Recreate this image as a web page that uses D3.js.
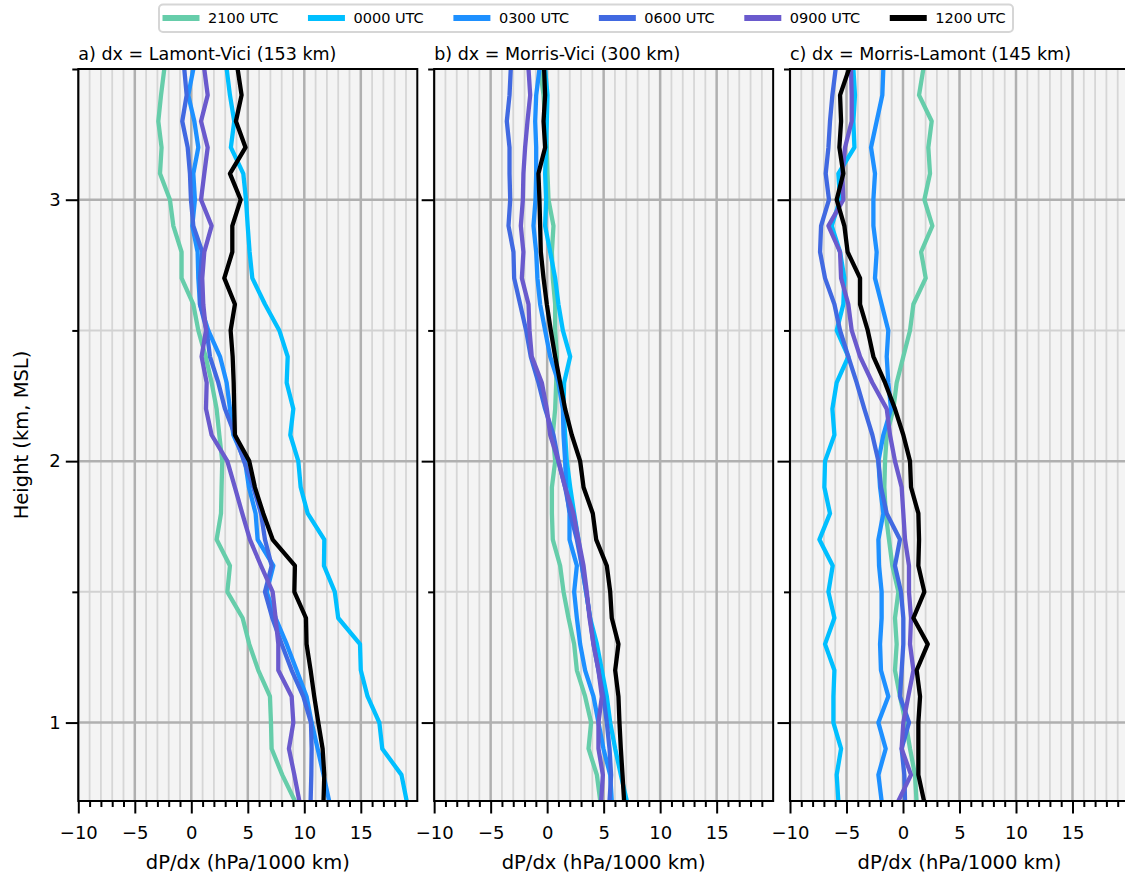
<!DOCTYPE html>
<html>
<head>
<meta charset="utf-8">
<script src="https://cdn.jsdelivr.net/npm/d3@7"></script>
<style>
body { margin: 0; background: #fff; }
svg text { font-family: "DejaVu Sans", sans-serif; fill: #000; }
</style>
</head>
<body>
<div id="chart"></div>
<script>
// heights (km, MSL), listed top to bottom
var heights = [3.5, 3.4, 3.3, 3.2, 3.1, 3.0, 2.9, 2.8, 2.7, 2.6, 2.5, 2.4, 2.3, 2.2, 2.1,
               2.0, 1.9, 1.8, 1.7, 1.6, 1.5, 1.4, 1.3, 1.2, 1.1, 1.0, 0.9, 0.8, 0.7];

// a) Lamont-Vici
var a2100 = [-2.39, -2.68, -2.92, -2.63, -2.77, -1.89, -1.59, -0.86, -0.86, 0.18, 0.62, 1.27, 1.8, 2.24, 2.48, 2.74, 2.68, 2.63, 2.24, 3.42, 3.19, 4.54, 5.13, 5.93, 6.96, 7.05, 7.11, 8.05, 9.17];
var a0000 = [3.13, 3.42, 3.8, 3.5, 4.6, 4.84, 4.99, 5.16, 5.4, 6.52, 7.79, 8.53, 8.44, 9.03, 8.76, 9.47, 9.68, 10.3, 11.77, 11.74, 12.7, 13.0, 14.93, 15.0, 15.6, 16.64, 16.9, 18.6, 19.06];
var a0300 = [0.18, -0.27, 0.27, 0.62, 0.18, 0.32, 0.09, 0.56, 0.62, 0.77, 1.5, 2.54, 3.13, 3.42, 3.72, 4.75, 5.1, 5.69, 5.87, 7.26, 6.67, 7.46, 8.44, 9.32, 10.2, 10.65, 11.18, 11.7, 12.2];
var a0600 = [-0.62, -0.41, -0.8, -0.32, -0.12, -0.03, 0.18, 0.97, 0.77, 0.77, 1.36, 1.65, 2.39, 2.98, 3.86, 4.66, 5.49, 6.17, 6.52, 7.11, 6.52, 7.17, 8.0, 8.88, 9.91, 10.59, 10.65, 10.62, 10.56];
var a0900 = [1.15, 1.45, 0.86, 1.45, 1.15, 0.86, 1.8, 1.15, 0.97, 1.06, 1.3, 0.91, 1.36, 1.3, 1.8, 3.19, 3.86, 4.51, 5.19, 6.17, 7.2, 7.46, 7.7, 7.7, 8.88, 9.03, 8.64, 9.12, 9.56];
var a1200 = [4.1, 4.45, 3.95, 4.8, 3.42, 4.37, 3.63, 3.63, 2.92, 3.86, 3.48, 3.66, 3.75, 3.8, 3.86, 5.13, 5.63, 6.37, 7.2, 9.17, 9.12, 10.15, 10.2, 10.56, 10.88, 11.24, 11.62, 11.77, 11.7];

// b) Morris-Vici
var b2100 = [-0.62, -0.32, -0.18, -0.03, 0.03, 0.12, 0.56, 0.42, 0.5, 0.71, 0.71, 0.86, 0.8, 0.71, 0.5, 0.71, 0.42, 0.42, 0.5, 1.15, 1.45, 1.89, 2.39, 2.63, 3.36, 3.89, 3.66, 4.4, 4.7];
var b0000 = [-0.18, 0.03, -0.03, -0.09, -0.18, -0.09, -0.18, 0.27, 0.71, 1.0, 1.39, 2.04, 1.5, 1.45, 1.59, 1.74, 2.04, 2.39, 2.77, 3.07, 3.45, 3.8, 4.4, 4.84, 5.28, 5.58, 6.02, 6.52, 7.05];
var b0300 = [-0.68, -0.97, -1.06, -0.97, -0.97, -1.03, -1.21, -0.97, -0.86, -0.62, -0.18, 0.27, 1.0, 1.39, 1.45, 1.59, 1.68, 1.98, 1.98, 2.63, 2.39, 2.63, 2.92, 3.36, 4.1, 4.54, 4.98, 5.58, 5.72];
var b0600 = [-3.22, -3.33, -3.57, -3.33, -3.33, -3.27, -3.42, -2.98, -2.92, -2.39, -1.86, -1.45, -0.77, -0.18, 0.56, 1.0, 1.59, 2.04, 2.63, 3.07, 3.45, 3.8, 4.1, 4.54, 4.98, 5.28, 5.52, 5.66, 5.52];
var b0900 = [-1.65, -1.5, -1.74, -1.95, -2.1, -2.15, -2.33, -2.1, -2.24, -1.65, -1.56, -1.36, -0.47, -0.03, 0.27, 1.0, 1.59, 2.33, 2.77, 3.22, 3.51, 3.75, 4.1, 4.54, 4.84, 4.54, 4.54, 4.93, 4.78];
var b1200 = [-0.27, -0.18, -0.32, -0.18, -0.77, -0.68, -0.62, -0.56, -0.32, -0.03, 0.32, 0.71, 1.15, 1.59, 2.18, 2.92, 3.22, 4.04, 4.34, 5.28, 5.58, 5.72, 6.31, 6.02, 6.31, 6.4, 6.52, 6.67, 6.81];

// c) Morris-Lamont
var c2100 = [1.8, 1.42, 2.54, 2.24, 2.39, 1.89, 2.6, 1.6, 2.01, 0.92, 0.62, 0.03, -0.56, -0.85, -1.44, -1.59, -1.65, -1.53, -1.24, -0.94, -0.41, -0.71, -0.56, -0.71, -0.27, 0.24, 0.62, 1.06, 1.2];
var c0000 = [-4.39, -4.25, -4.39, -4.3, -5.72, -5.57, -6.31, -5.57, -5.19, -5.28, -5.87, -4.84, -5.87, -6.25, -6.07, -6.9, -6.96, -6.46, -7.4, -6.22, -6.6, -6.07, -6.9, -6.07, -6.16, -6.16, -5.48, -5.87, -5.72];
var c0300 = [-1.74, -1.83, -2.33, -2.83, -2.48, -2.62, -2.62, -2.33, -2.48, -1.89, -1.3, -1.44, -1.3, -1.06, -1.74, -2.18, -2.03, -1.74, -2.18, -2.12, -1.89, -1.89, -2.03, -1.95, -1.3, -2.18, -1.53, -2.18, -1.89];
var c0600 = [-5.96, -6.25, -6.46, -6.6, -6.84, -6.55, -7.25, -7.34, -6.9, -6.07, -5.57, -4.84, -4.1, -3.42, -2.71, -2.18, -1.95, -1.44, -0.27, -0.71, -0.18, 0.03, 0.03, -0.12, -0.27, 0.53, -0.12, 0.12, 0.18];
var c0900 = [-4.6, -4.54, -4.54, -5.13, -5.37, -5.28, -6.6, -5.57, -5.48, -4.84, -4.54, -3.8, -2.71, -1.44, -1.15, -0.71, -0.12, 0.03, 0.18, 0.53, 0.53, 0.71, 0.62, 0.92, 0.47, 0.03, -0.12, 0.71, -0.41];
var c1200 = [-4.78, -5.57, -5.48, -5.63, -5.28, -5.87, -5.19, -4.9, -3.8, -3.8, -3.12, -2.62, -1.59, -0.71, 0.03, 0.62, 0.71, 1.36, 1.42, 1.36, 1.89, 0.92, 2.19, 1.21, 1.51, 1.36, 1.36, 1.36, 1.86];

var times = ["2100 UTC", "0000 UTC", "0300 UTC", "0600 UTC", "0900 UTC", "1200 UTC"];
var colors = ["#66cdaa", "#00bfff", "#1e90ff", "#4169e1", "#6a5acd", "#000000"];
var titles = ["a) dx = Lamont-Vici (153 km)", "b) dx = Morris-Vici (300 km)", "c) dx = Morris-Lamont (145 km)"];
var xMajor = [-10, -5, 0, 5, 10, 15];
var yMajor = [1, 2, 3];
var yMinor = [1.5, 2.5, 3.5];

var panels = [
    [a2100, a0000, a0300, a0600, a0900, a1200],
    [b2100, b0000, b0300, b0600, b0900, b1200],
    [c2100, c0000, c0300, c0600, c0900, c1200]
];

var width = 1125, height = 878;
var margins = {top: 69, bottom: 801, left: 78.3};
var pw = 339, gap = 16.85;
var xMinor = d3.range(-10, 20).filter(function(v) { return v % 5 !== 0; });

var svg = d3.select("#chart").append("svg")
    .attr("width", width).attr("height", height)
    .attr("viewBox", [0, 0, width, height]);

var y = d3.scaleLinear().domain([0.7, 3.5]).range([margins.bottom, margins.top]);

panels.forEach(function(series, p) {
    var x0 = margins.left + p * (pw + gap);
    var x = d3.scaleLinear().domain([-10, 20]).range([x0, x0 + pw]);
    var g = svg.append("g").attr("class", "panel");

    g.append("clipPath").attr("id", "clip" + p)
        .append("rect")
        .attr("x", x0).attr("y", margins.top)
        .attr("width", pw).attr("height", margins.bottom - margins.top);

    g.append("rect")
        .attr("x", x0).attr("y", margins.top)
        .attr("width", pw).attr("height", margins.bottom - margins.top)
        .attr("fill", "#f4f4f4");

    // grid
    g.append("g").selectAll("line").data(xMinor).enter().append("line")
        .attr("x1", d => x(d)).attr("x2", d => x(d))
        .attr("y1", margins.top).attr("y2", margins.bottom)
        .attr("stroke", "#d6d6d6").attr("stroke-width", 1.8);
    g.append("g").selectAll("line").data(yMinor).enter().append("line")
        .attr("x1", x0).attr("x2", x0 + pw)
        .attr("y1", d => y(d)).attr("y2", d => y(d))
        .attr("stroke", "#d2d2d2").attr("stroke-width", 2);
    g.append("g").selectAll("line").data(xMajor).enter().append("line")
        .attr("x1", d => x(d)).attr("x2", d => x(d))
        .attr("y1", margins.top).attr("y2", margins.bottom)
        .attr("stroke", "#b0b0b0").attr("stroke-width", 2.5);
    g.append("g").selectAll("line").data(yMajor).enter().append("line")
        .attr("x1", x0).attr("x2", x0 + pw)
        .attr("y1", d => y(d)).attr("y2", d => y(d))
        .attr("stroke", "#b0b0b0").attr("stroke-width", 2.5);

    var line = d3.line()
        .x(function(d) { return x(d); })
        .y(function(d, i) { return y(heights[i]); });

    g.append("g").attr("clip-path", "url(#clip" + p + ")")
        .selectAll("path").data(series).enter().append("path")
        .attr("d", d => line(d))
        .attr("fill", "none")
        .attr("stroke", (d, i) => colors[i])
        .attr("stroke-width", 4.3)
        .attr("stroke-linejoin", "round");

    // frame
    g.append("rect")
        .attr("x", x0).attr("y", margins.top)
        .attr("width", pw).attr("height", margins.bottom - margins.top)
        .attr("fill", "none").attr("stroke", "#000").attr("stroke-width", 2);

    // x axis: major and minor ticks in their own groups
    var xa = g.append("g").attr("transform", "translate(0," + margins.bottom + ")");
    xa.call(d3.axisBottom(x).tickValues(xMajor).tickSize(12.5).tickFormat(d3.format("d")))
        .call(a => a.select(".domain").remove());
    xa.selectAll("text").attr("y", 38).attr("dy", 0)
        .style("font-size", "18px").style("font-family", "DejaVu Sans");
    var xb = g.append("g").attr("transform", "translate(0," + margins.bottom + ")");
    xb.call(d3.axisBottom(x).tickValues(xMinor).tickSize(6).tickFormat(""))
        .call(a => a.select(".domain").remove());

    // y axis
    var ya = g.append("g").attr("transform", "translate(" + x0 + ",0)");
    ya.call(d3.axisLeft(y).tickValues(yMajor).tickSize(12.5).tickPadding(5)
            .tickFormat(p === 0 ? d3.format("d") : ""))
        .call(a => a.select(".domain").remove());
    ya.selectAll("text").style("font-size", "18px").style("font-family", "DejaVu Sans");
    var yb = g.append("g").attr("transform", "translate(" + x0 + ",0)");
    yb.call(d3.axisLeft(y).tickValues(yMinor).tickSize(6).tickFormat(""))
        .call(a => a.select(".domain").remove());
    g.selectAll(".tick line").attr("stroke", "#000").attr("stroke-width", 2);

    g.append("text")
        .attr("x", x0).attr("y", 59.5)
        .style("font-size", "17.5px")
        .text(titles[p]);

    g.append("text")
        .attr("x", x0 + pw / 2).attr("y", 869)
        .attr("text-anchor", "middle")
        .style("font-size", "19.5px")
        .text("dP/dx (hPa/1000 km)");
});

svg.append("text")
    .attr("transform", "translate(28," + ((margins.top + margins.bottom) / 2) + ") rotate(-90)")
    .attr("text-anchor", "middle")
    .style("font-size", "19.5px")
    .text("Height (km, MSL)");

// legend
var legend = svg.append("g").attr("class", "legend");
legend.append("rect")
    .attr("x", 159).attr("y", 4.5).attr("width", 854).attr("height", 27.5)
    .attr("rx", 4).attr("fill", "#fff")
    .attr("stroke", "#d6d6d6").attr("stroke-width", 2);

var item = legend.selectAll(".item").data(times).enter().append("g")
    .attr("class", "item")
    .attr("transform", (d, i) => "translate(" + (162.5 + i * 145.45) + ",18)");
item.append("line")
    .attr("x1", 0).attr("x2", 37).attr("y1", 0).attr("y2", 0)
    .attr("stroke", (d, i) => colors[i]).attr("stroke-width", 6);
item.append("text")
    .attr("x", 45.5).attr("y", 0).attr("dy", "0.35em")
    .style("font-size", "14.5px")
    .text(d => d);
</script>
</body>
</html>
